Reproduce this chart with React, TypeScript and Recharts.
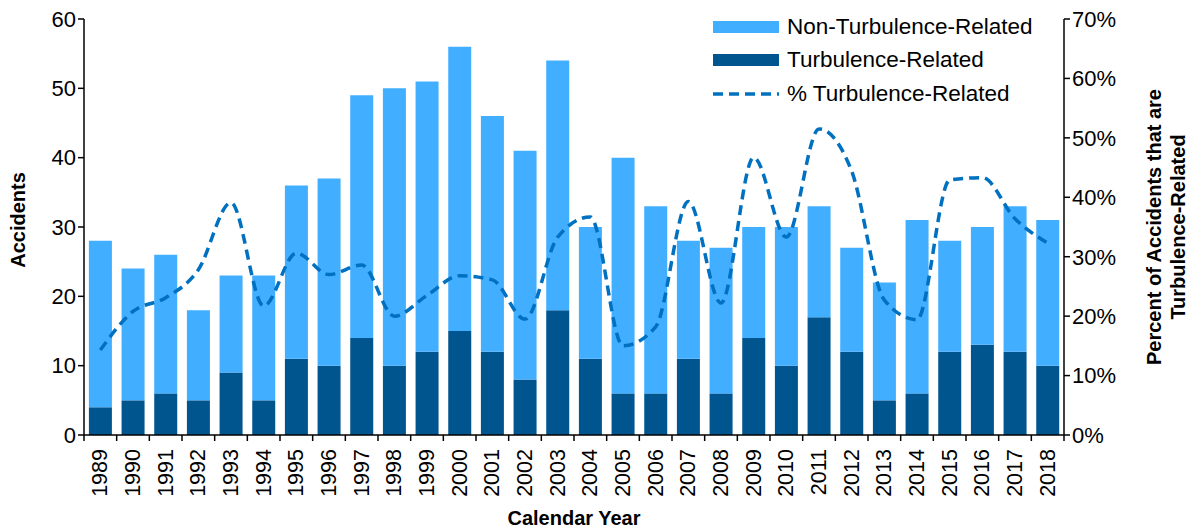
import React from 'react';
import { ComposedChart, Bar, Line, XAxis, YAxis } from 'recharts';

const years = [
  '1989', '1990', '1991', '1992', '1993', '1994', '1995', '1996', '1997', '1998',
  '1999', '2000', '2001', '2002', '2003', '2004', '2005', '2006', '2007', '2008',
  '2009', '2010', '2011', '2012', '2013', '2014', '2015', '2016', '2017', '2018',
];
const turbulence = [4, 5, 6, 5, 9, 5, 11, 10, 14, 10, 12, 15, 12, 8, 18, 11, 6, 6, 11, 6, 14, 10, 17, 12, 5, 6, 12, 13, 12, 10];
const nonTurbulence = [24, 19, 20, 13, 14, 18, 25, 27, 35, 40, 39, 41, 34, 33, 36, 19, 34, 27, 17, 21, 16, 20, 16, 15, 17, 25, 16, 17, 21, 21];
const pctTurbulence = [14.3, 20.8, 23.1, 27.8, 39.1, 21.7, 30.6, 27.0, 28.6, 20.0, 23.5, 26.8, 26.1, 19.5, 33.3, 36.7, 15.0, 18.2, 39.3, 22.2, 46.7, 33.3, 51.5, 44.4, 22.7, 19.4, 42.9, 43.3, 36.4, 32.3];
const leftTicks = [0, 10, 20, 30, 40, 50, 60];
const rightTicks = [0, 10, 20, 30, 40, 50, 60, 70];

const LIGHT = '#42AEFF';
const DARK = '#00558F';
const LINE = '#0070C0';
const FONT = 'Arial, "Liberation Sans", sans-serif';

const data = years.map((year, i) => ({
  year,
  turb: turbulence[i],
  nonTurb: nonTurbulence[i],
  pct: pctTurbulence[i],
}));

const YearTick = (props: any) => {
  const { x, y, payload, index } = props;
  const half = payload && payload.offset ? payload.offset : 16.33;
  return (
    <g>
      <line x1={x - half} y1={y - 8} x2={x - half} y2={y - 2} stroke="#000" strokeWidth={1.5} />
      {index === years.length - 1 && (
        <line x1={x + half} y1={y - 8} x2={x + half} y2={y - 2} stroke="#000" strokeWidth={1.5} />
      )}
      <text
        x={x}
        y={y + 6}
        transform={`rotate(-90 ${x} ${y + 6})`}
        textAnchor="end"
        dominantBaseline="central"
        fontSize={21.5}
        fontFamily={FONT}
        fill="#000"
      >
        {payload.value}
      </text>
    </g>
  );
};

const legendItems = [
  { label: 'Non-Turbulence-Related', kind: 'bar', color: LIGHT },
  { label: 'Turbulence-Related', kind: 'bar', color: DARK },
  { label: '% Turbulence-Related', kind: 'line', color: LINE },
];

export default function App() {
  return (
    <div style={{ position: 'relative', width: 1188, height: 531, fontFamily: FONT, background: '#fff', overflow: 'hidden' }}>
      <style>{'body{margin:0}'}</style>
      <ComposedChart
        width={1188}
        height={531}
        data={data}
        margin={{ top: 19, right: 54, left: 24, bottom: 36 }}
        barCategoryGap="15%"
      >
        <XAxis
          dataKey="year"
          interval={0}
          tickLine={false}
          axisLine={{ stroke: '#000', strokeWidth: 1.5 }}
          height={60}
          tick={<YearTick />}
        />
        <YAxis
          yAxisId="left"
          domain={[0, 60]}
          ticks={leftTicks}
          width={60}
          axisLine={{ stroke: '#000', strokeWidth: 1.5 }}
          tickLine={{ stroke: '#000', strokeWidth: 1.5 }}
          tickSize={6}
          tick={{ fill: '#000', fontSize: 22, fontFamily: FONT }}
        />
        <YAxis
          yAxisId="right"
          orientation="right"
          domain={[0, 70]}
          ticks={rightTicks}
          width={70}
          tickFormatter={(v: number) => `${v}%`}
          axisLine={{ stroke: '#000', strokeWidth: 1.5 }}
          tickLine={{ stroke: '#000', strokeWidth: 1.5 }}
          tickSize={6}
          tick={{ fill: '#000', fontSize: 22, fontFamily: FONT }}
        />
        <Bar yAxisId="left" dataKey="turb" stackId="a" fill={DARK} isAnimationActive={false} />
        <Bar yAxisId="left" dataKey="nonTurb" stackId="a" fill={LIGHT} isAnimationActive={false} />
        <Line
          yAxisId="right"
          type="monotone"
          dataKey="pct"
          stroke={LINE}
          strokeWidth={3.5}
          strokeDasharray="10 6"
          dot={false}
          isAnimationActive={false}
        />
      </ComposedChart>

      <div
        style={{
          position: 'absolute', left: 18, top: 220, transform: 'translate(-50%, -50%) rotate(-90deg)',
          fontWeight: 'bold', fontSize: 20, whiteSpace: 'nowrap',
        }}
      >
        Accidents
      </div>
      <div
        style={{
          position: 'absolute', left: 1166, top: 227, transform: 'translate(-50%, -50%) rotate(-90deg)',
          fontWeight: 'bold', fontSize: 20, whiteSpace: 'nowrap', textAlign: 'center', lineHeight: '24px',
        }}
      >
        Percent of Accidents that are<br />Turbulence-Related
      </div>
      <div
        style={{
          position: 'absolute', left: 574, top: 518, transform: 'translate(-50%, -50%)',
          fontWeight: 'bold', fontSize: 20, whiteSpace: 'nowrap',
        }}
      >
        Calendar Year
      </div>

      <div style={{ position: 'absolute', left: 713, top: 10 }}>
        {legendItems.map((item) => (
          <div key={item.label} style={{ display: 'flex', alignItems: 'center', height: 33.5, fontSize: 22.5 }}>
            <svg width={66} height={14} style={{ marginRight: 8 }}>
              {item.kind === 'bar' ? (
                <rect x={0} y={1} width={66} height={12} fill={item.color} />
              ) : (
                <line x1={0} y1={7} x2={66} y2={7} stroke={item.color} strokeWidth={3.5} strokeDasharray="10 6" />
              )}
            </svg>
            <span>{item.label}</span>
          </div>
        ))}
      </div>
    </div>
  );
}
